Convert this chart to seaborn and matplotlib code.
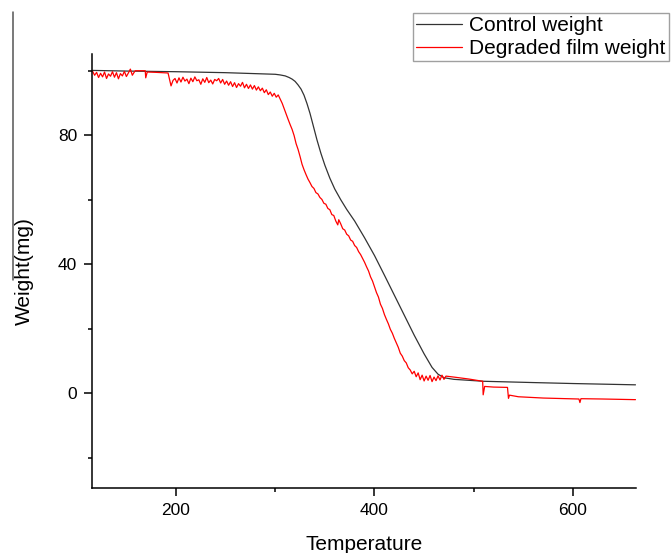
import matplotlib
matplotlib.use('Agg')
import matplotlib.pyplot as plt
from matplotlib.lines import Line2D
from matplotlib.ticker import MultipleLocator
import pandas as pd
import seaborn as sns

# Control weight (black curve)
control_temp = [116, 150, 200, 250, 290, 300, 305, 310, 314, 317, 320, 323, 326, 329, 332,
                335, 338, 342, 346, 350, 355, 360, 366, 372, 380, 390, 400, 410, 420, 430,
                440, 450, 458, 464, 470, 480, 510, 560, 600, 663]
control_weight = [100.1, 99.9, 99.7, 99.4, 99.0, 98.9, 98.7, 98.4, 97.9, 97.4, 96.7, 95.6,
                  94.3, 92.4, 89.8, 86.8, 83.3, 78.6, 74.4, 70.7, 66.7, 63.3, 60.0, 57.0,
                  53.4, 48.2, 42.7, 36.6, 30.4, 24.2, 18.0, 12.2, 8.0, 5.9, 4.8, 4.3, 3.7,
                  3.3, 3.0, 2.6]

# Degraded film weight (red curve, noisy readout)
film_temp = [116, 118, 120, 122, 124, 126, 128, 130, 132, 134, 136, 138, 140, 142, 144,
             146, 148, 150, 152, 154, 156, 158, 159, 169, 169.5, 171, 180, 192, 195, 197,
             199, 201, 203, 205, 207, 209, 211, 213, 215, 217, 219, 221, 223, 225, 227,
             229, 231, 233, 235, 237, 239, 241, 243, 245, 247, 249, 251, 253, 255, 257,
             259, 261, 263, 265, 267, 269, 271, 273, 275, 277, 279, 281, 283, 285, 287,
             289, 291, 293, 295, 297, 299, 301, 303, 305, 307, 309, 311, 313, 315, 317,
             319, 321, 323, 325, 327, 329, 331, 333, 335, 337, 339, 341, 343, 345, 347,
             349, 351, 353, 355, 357, 359, 361, 363, 364, 366, 368, 370, 372, 374, 376,
             378, 380, 382, 384, 386, 388, 390, 392, 394, 396, 398, 400, 402, 404, 406,
             408, 410, 412, 414, 416, 418, 420, 422, 424, 426, 428, 430, 432, 434, 436,
             438, 440, 442, 444, 446, 448, 450, 452, 454, 456, 458, 460, 462, 464, 466,
             468, 470, 472, 480, 495, 509, 509.5, 511, 520, 534, 535, 536, 545, 570, 606,
             607, 608, 630, 663]
film_weight = [99.8, 98.6, 99.5, 97.9, 99.2, 98.1, 99.6, 97.6, 99.0, 98.3, 99.7, 98.0,
               99.4, 97.5, 99.1, 98.4, 99.8, 98.2, 99.3, 100.5, 98.6, 99.6, 100.0, 100.0,
               97.8, 99.6, 99.5, 99.3, 95.3, 97.0, 97.6, 96.2, 97.8, 96.5, 98.0, 96.8,
               97.4, 96.0, 97.7, 96.6, 98.1, 96.9, 97.2, 95.8, 97.5, 96.4, 97.9, 96.3,
               97.1, 95.9, 97.3, 96.9, 97.6, 96.2, 97.3, 95.8, 96.8, 95.5, 96.6, 95.1,
               96.3, 94.8, 96.0, 95.2, 96.4, 94.7, 95.8, 94.5, 95.6, 94.3, 95.4, 94.0,
               95.0, 93.8, 94.6, 93.2, 94.1, 92.6, 93.4, 92.1, 93.0, 91.8, 92.5, 91.2,
               89.9, 88.2, 86.4, 84.9, 83.3, 81.8, 79.9, 77.4, 75.6, 73.4, 71.0, 69.3,
               67.8, 66.4, 65.3, 64.1, 63.5, 62.2, 61.8, 60.7, 60.1, 58.9, 58.6, 57.3,
               56.9, 55.4, 55.1, 53.4, 52.2, 53.8, 52.5, 51.0, 50.6, 49.3, 48.8, 47.5,
               47.1, 45.8, 45.2, 43.9, 43.0, 41.8, 40.6, 39.2, 37.9, 36.1, 34.8, 33.0,
               31.2, 29.8, 27.6, 26.3, 24.4, 22.9, 21.5, 19.8, 18.6, 17.0, 15.6, 14.2,
               12.4, 11.5, 10.1, 9.4, 7.9, 7.2, 6.0, 6.8, 5.1, 6.3, 4.2, 5.6, 3.8, 5.3,
               4.0, 5.5, 3.6, 5.0, 3.9, 5.4, 4.1, 5.6, 4.3, 5.3, 5.0, 4.4, 3.7, -0.5,
               2.1, 1.9, 1.8, -1.6, -0.6, -1.1, -1.5, -1.8, -2.9, -1.7, -1.8, -2.0]

x_ticks = [200, 400, 600]
y_ticks = [0, 40, 80]

control = pd.DataFrame({'Temperature': control_temp, 'Weight': control_weight})
film = pd.DataFrame({'Temperature': film_temp, 'Weight': film_weight})

sns.set_theme(style='ticks')
plt.rcParams['font.family'] = ['Liberation Sans', 'DejaVu Sans']
plt.rcParams['text.color'] = 'black'
plt.rcParams['axes.labelcolor'] = 'black'

fig = plt.figure(figsize=(6.72, 5.53), dpi=100)
ax = fig.add_axes([0.1374, 0.1181, 0.8086, 0.7843])

sns.lineplot(data=control, x='Temperature', y='Weight', ax=ax, color='#333333',
             linewidth=0.9, sort=False, estimator=None, label='Control weight')
sns.lineplot(data=film, x='Temperature', y='Weight', ax=ax, color='#ff0000',
             linewidth=0.9, sort=False, estimator=None, label='Degraded film weight')

ax.set_xlim(115.7, 663.2)
ax.set_ylim(-29.3, 105.2)
ax.set_xticks(x_ticks)
ax.set_yticks(y_ticks)
ax.xaxis.set_minor_locator(MultipleLocator(100))
ax.yaxis.set_minor_locator(MultipleLocator(20))
ax.tick_params(which='major', direction='out', length=6, width=1.1, labelsize=12.5,
               colors='black', pad=5)
ax.tick_params(which='minor', direction='out', length=3, width=1.1, colors='black')
for side in ['top', 'right']:
    ax.spines[side].set_visible(False)
for side in ['left', 'bottom']:
    ax.spines[side].set_linewidth(1.1)
    ax.spines[side].set_color('black')

ax.set_xlabel('Temperature', fontsize=15, labelpad=12)
ax.set_ylabel('Weight(mg)', fontsize=15, labelpad=17)

handles, labels = ax.get_legend_handles_labels()
ax.get_legend().remove()
leg = fig.legend(handles, labels, loc='upper right', bbox_to_anchor=(0.9955, 0.9765),
                 fontsize=15, frameon=True, fancybox=False, borderaxespad=0,
                 borderpad=0.15, labelspacing=0.2, handlelength=2.2, handletextpad=0.35)
leg.get_frame().set_edgecolor('#888888')
leg.get_frame().set_linewidth(1.0)

# stray vertical rule at the left edge of the original image
fig.add_artist(Line2D([12.7 / 672, 12.7 / 672], [1 - 12 / 553, 1 - 280 / 553],
                      transform=fig.transFigure, color='#555555', linewidth=1.1))

fig.savefig('out.png', dpi=100)
